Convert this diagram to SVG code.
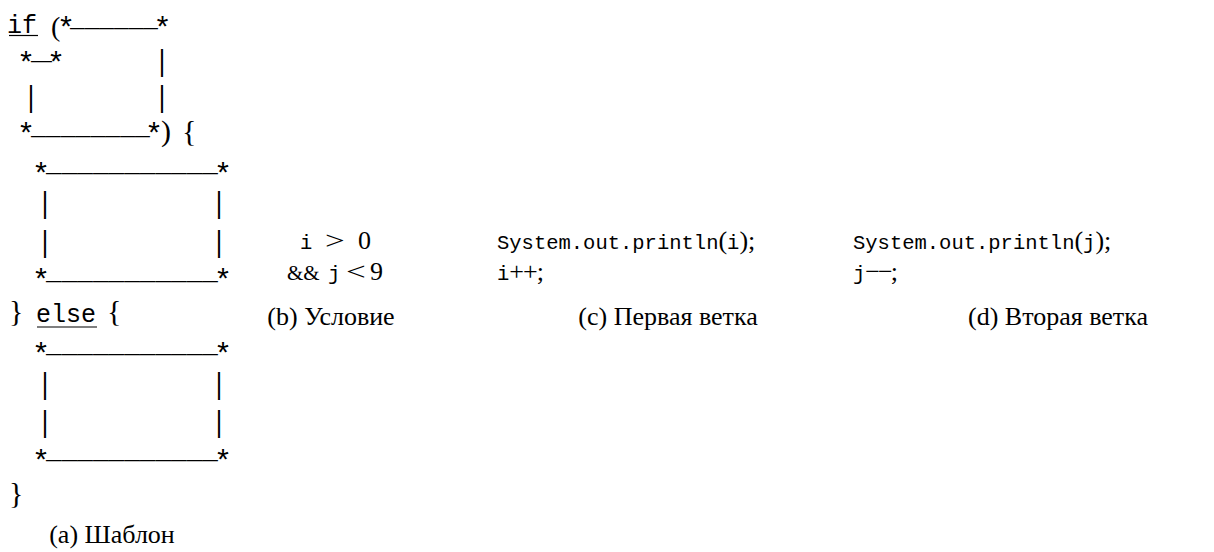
<svg xmlns="http://www.w3.org/2000/svg" width="1214" height="552" viewBox="0 0 1214 552">
  <style>
    .tt { font-family: "Liberation Mono", "DejaVu Sans Mono", monospace; fill: #000; }
    .rm { font-family: "Liberation Serif", "DejaVu Serif", serif; fill: #000; }
    .ta { font-size: 25px; }
    .star { font-size: 30px; text-anchor: middle; }
    .bar { font-size: 25px; text-anchor: middle; }
    .code { font-size: 20.5px; }
    .math { font-size: 26px; }
    .cap { font-size: 26px; text-anchor: middle; }
    .ul { stroke: #000; stroke-width: 1.2; }
  </style>
  <rect width="1214" height="552" fill="#fff"/>

  <!-- (a) template: if ( condition ) { branch } else { branch } -->
  <g id="template">
    <text class="tt ta" x="7" y="33">if</text>
    <line class="ul" x1="9" y1="35.5" x2="38" y2="35.5"/>
    <text class="rm" x="51" y="36" font-size="28">(</text>

    <!-- condition slot -->
    <text class="tt star" x="66" y="38">*</text>
    <text class="tt ta" x="70" y="26" textLength="88" lengthAdjust="spacingAndGlyphs">______</text>
    <text class="tt star" x="162.5" y="38">*</text>
    <text class="tt star" x="26" y="73">*</text>
    <text class="tt ta" x="31" y="59" textLength="21" lengthAdjust="spacingAndGlyphs">_</text>
    <text class="tt star" x="56" y="73">*</text>
    <text class="tt bar" transform="translate(162 71) scale(1 1.2)">|</text>
    <text class="tt bar" transform="translate(162 107) scale(1 1.2)">|</text>
    <text class="tt bar" transform="translate(31 107) scale(1 1.2)">|</text>
    <text class="tt star" x="26" y="144">*</text>
    <text class="tt ta" x="31" y="134" textLength="119" lengthAdjust="spacingAndGlyphs">________</text>
    <text class="tt star" x="154" y="144">*</text>
    <text class="rm" x="161" y="141" font-size="30">)</text>
    <text class="rm" x="182" y="141" font-size="30">{</text>

    <!-- first branch slot -->
    <text class="tt star" x="41" y="184">*</text>
    <text class="tt ta" x="46" y="171" textLength="172" lengthAdjust="spacingAndGlyphs">___________</text>
    <text class="tt star" x="223" y="184">*</text>
    <text class="tt bar" transform="translate(45 213) scale(1 1.2)">|</text>
    <text class="tt bar" transform="translate(219 213) scale(1 1.2)">|</text>
    <text class="tt bar" transform="translate(45 252) scale(1 1.2)">|</text>
    <text class="tt bar" transform="translate(219 252) scale(1 1.2)">|</text>
    <text class="tt star" x="41" y="290">*</text>
    <text class="tt ta" x="46" y="279" textLength="172" lengthAdjust="spacingAndGlyphs">___________</text>
    <text class="tt star" x="223" y="290">*</text>

    <text class="rm" x="9" y="321" font-size="30">}</text>
    <text class="tt ta" x="36" y="322">else</text>
    <line class="ul" x1="37" y1="327" x2="97" y2="327"/>
    <text class="rm" x="107" y="321" font-size="30">{</text>

    <!-- second branch slot -->
    <text class="tt star" x="41" y="364">*</text>
    <text class="tt ta" x="46" y="352" textLength="172" lengthAdjust="spacingAndGlyphs">___________</text>
    <text class="tt star" x="223" y="364">*</text>
    <text class="tt bar" transform="translate(45 394) scale(1 1.2)">|</text>
    <text class="tt bar" transform="translate(219 394) scale(1 1.2)">|</text>
    <text class="tt bar" transform="translate(45 432) scale(1 1.2)">|</text>
    <text class="tt bar" transform="translate(219 432) scale(1 1.2)">|</text>
    <text class="tt star" x="41" y="471">*</text>
    <text class="tt ta" x="46" y="458" textLength="172" lengthAdjust="spacingAndGlyphs">___________</text>
    <text class="tt star" x="223" y="471">*</text>

    <text class="rm" x="9" y="503" font-size="30">}</text>
    <text class="rm cap" x="112" y="543">(a) Шаблон</text>
  </g>

  <!-- (b) condition -->
  <g id="condition">
    <text class="tt code" x="300" y="249">i</text>
    <text class="rm math" transform="translate(325 249) scale(1.35 1)">&gt;</text>
    <text class="rm math" x="358" y="249">0</text>
    <text class="rm" x="287" y="280" font-size="21">&amp;&amp;</text>
    <text class="tt code" x="328" y="280">j</text>
    <text class="rm math" transform="translate(346 280) scale(1.35 1)">&lt;</text>
    <text class="rm math" x="370" y="280">9</text>
    <text class="rm cap" x="331" y="325">(b) Условие</text>
  </g>

  <!-- (c) first branch -->
  <g id="branch-then">
    <text x="497" y="249"><tspan class="tt code">System.out.println</tspan><tspan class="rm math">(</tspan><tspan class="tt code">i</tspan><tspan class="rm math">);</tspan></text>
    <text x="497" y="280"><tspan class="tt code">i</tspan><tspan class="rm math" letter-spacing="-1">++;</tspan></text>
    <text class="rm cap" x="668" y="325">(c) Первая ветка</text>
  </g>

  <!-- (d) second branch -->
  <g id="branch-else">
    <text x="853" y="249"><tspan class="tt code">System.out.println</tspan><tspan class="rm math">(</tspan><tspan class="tt code">j</tspan><tspan class="rm math">);</tspan></text>
    <text x="853" y="280"><tspan class="tt code">j</tspan><tspan class="rm math" letter-spacing="-2">−−</tspan><tspan class="rm math">;</tspan></text>
    <text class="rm cap" x="1058" y="325">(d) Вторая ветка</text>
  </g>
</svg>
